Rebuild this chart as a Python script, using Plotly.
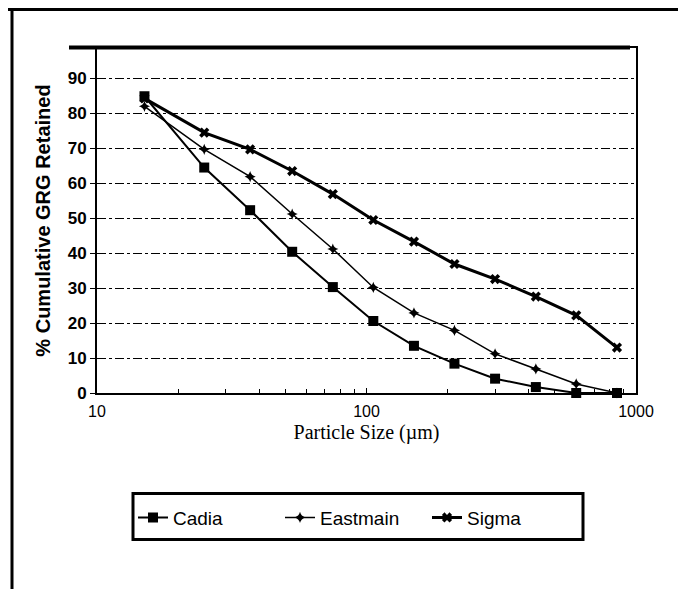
import plotly.graph_objects as go

sizes = [15, 25, 37, 53, 75, 106, 150, 212, 300, 425, 600, 850]
cadia = [84.9, 64.5, 52.3, 40.4, 30.3, 20.6, 13.5, 8.4, 4.1, 1.7, 0.0, 0.0]
eastmain = [82.0, 69.7, 61.9, 51.2, 41.2, 30.2, 22.9, 17.9, 11.2, 6.9, 2.6, 0.0]
sigma = [84.3, 74.5, 69.7, 63.5, 56.9, 49.5, 43.3, 36.9, 32.6, 27.6, 22.2, 13.0]
y_ticks = [0, 10, 20, 30, 40, 50, 60, 70, 80, 90]
x_ticks = [10, 100, 1000]
x_minor = [20, 30, 40, 50, 60, 70, 80, 90, 200, 300, 400, 500, 600, 700, 800, 900]

OFF = 8  # page body margin in the browser
W, H = 686 - OFF, 589 - OFF
L, R, T, B = 97, 636, 48, 393.3  # plot area in page pixels

def px(x):
    return (x - L) / (R - L)

def py(y):
    return (B - y) / (B - T)

fig = go.Figure()
fig.add_trace(go.Scatter(x=sizes, y=cadia, name="Cadia", mode="lines+markers",
                         line=dict(color="black", width=2),
                         marker=dict(symbol="square", size=10, color="black"),
                         cliponaxis=False))
fig.add_trace(go.Scatter(x=sizes, y=eastmain, name="Eastmain", mode="lines+markers",
                         line=dict(color="black", width=1.5),
                         marker=dict(symbol="star-diamond", size=8, color="black"),
                         cliponaxis=False))
fig.add_trace(go.Scatter(x=sizes, y=sigma, name="Sigma", mode="lines+markers",
                         line=dict(color="black", width=3),
                         marker=dict(symbol="x", size=9, color="black"),
                         cliponaxis=False))

shapes = [
    # outer border
    dict(type="line", xref="paper", yref="paper", x0=px(8), x1=px(684), y0=py(9.5), y1=py(9.5),
         line=dict(color="black", width=3)),
    dict(type="line", xref="paper", yref="paper", x0=px(12), x1=px(12), y0=py(8), y1=py(592),
         line=dict(color="black", width=3)),
    dict(type="line", xref="paper", yref="paper", x0=px(682), x1=px(682), y0=py(9.5), y1=py(592),
         line=dict(color="black", width=3)),
    # thick top of plot frame
    dict(type="line", xref="paper", yref="paper", x0=px(69), x1=px(630), y0=py(47.5), y1=py(47.5),
         line=dict(color="black", width=4)),
    # legend box
    dict(type="rect", xref="paper", yref="paper", x0=px(133), x1=px(583), y0=py(494), y1=py(540),
         line=dict(color="black", width=3)),
]

fig.update_layout(
    width=W, height=H,
    margin=dict(l=L - OFF, r=W - (R - OFF), t=T - OFF, b=H - (B - OFF)),
    paper_bgcolor="white", plot_bgcolor="white",
    showlegend=True,
    legend=dict(orientation="h", x=px(133), y=py(499), xanchor="left", yanchor="top",
                font=dict(family="Liberation Sans", size=19, color="black"),
                bgcolor="rgba(0,0,0,0)", entrywidth=102, entrywidthmode="pixels",
                itemwidth=30),
    shapes=shapes,
    xaxis=dict(type="log", range=[1, 3], tickvals=x_ticks, ticktext=[str(v) for v in x_ticks],
               showgrid=False, zeroline=False, showline=True, linecolor="black", linewidth=2,
               mirror=True, ticks="inside", ticklen=5, tickcolor="black", ticklabelstandoff=3,
               minor=dict(tickmode="array", tickvals=x_minor, ticks="inside", ticklen=4,
                          tickcolor="black", showgrid=False),
               tickfont=dict(family="Liberation Sans", size=16, color="black"),
               title=dict(text="Particle Size (µm)", standoff=6,
                          font=dict(family="Liberation Serif", size=20, color="black"))),
    yaxis=dict(range=[0, 98.7], tickvals=y_ticks, showgrid=True, gridcolor="black",
               gridwidth=1, griddash="dashdot", zeroline=False, showline=True,
               linecolor="black", linewidth=2, mirror=True, ticks="outside", ticklen=5,
               tickcolor="black",
               tickfont=dict(family="Liberation Sans", size=17, color="black", weight="bold"),
               title=dict(text="% Cumulative GRG Retained", standoff=12,
                          font=dict(family="Liberation Sans", size=20, color="black",
                                    weight="bold"))),
)

fig.write_html("out.html")
